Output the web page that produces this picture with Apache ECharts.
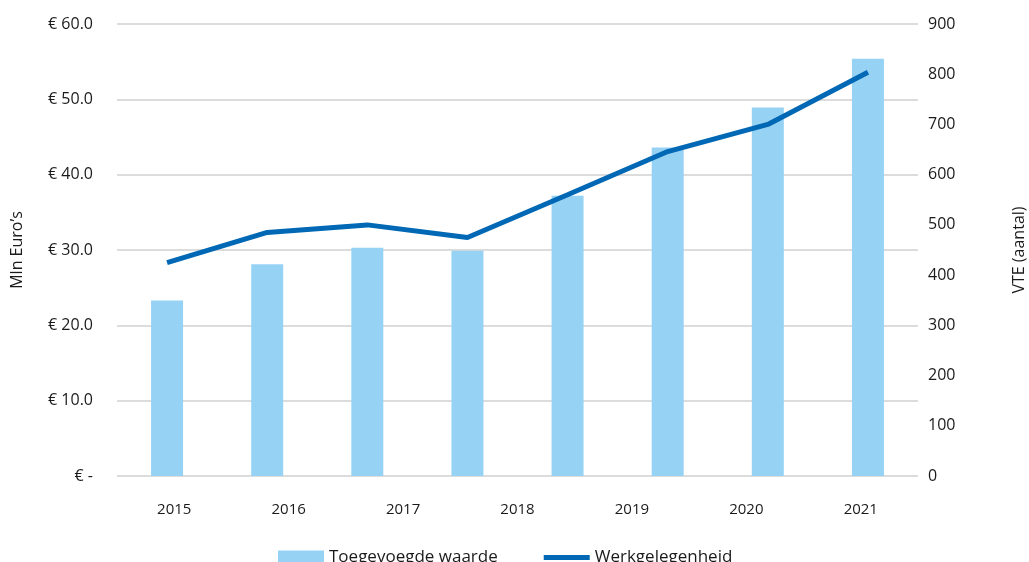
<!DOCTYPE html>
<html>
<head>
<meta charset="utf-8">
<script src="https://cdn.jsdelivr.net/npm/echarts@6/dist/echarts.min.js"></script>
<style>
    html, body { margin: 0; padding: 0; background: #fff; }
    #chart { width: 1029px; height: 562px; }
</style>
</head>
<body>
<div id="chart"></div>
<script>
// 8 bars/points in the plot, but only 7 year labels under the axis (as in the source)
var periods = ['p1', 'p2', 'p3', 'p4', 'p5', 'p6', 'p7', 'p8'];
var yearLabels = ['2015', '2016', '2017', '2018', '2019', '2020', '2021'];
var toegevoegdeWaarde = [23.3, 28.1, 30.3, 29.9, 37.2, 43.6, 48.9, 55.4];
var werkgelegenheid = [425, 485, 500, 475, 560, 646, 700, 804];

var fontName = '"Open Sans", "Noto Sans", sans-serif';
var textColor = '#1a1a1a';

var myChart = echarts.init(document.getElementById('chart'));

var option = {
    animation: false,
    textStyle: { fontFamily: fontName },
    grid: { left: 117, right: 111, top: 24, bottom: 86, outerBoundsMode: 'none' },
    legend: {
        bottom: -9,
        left: 273,
        itemWidth: 46,
        itemHeight: 14,
        itemGap: 46,
        textStyle: { fontSize: 17, color: textColor, fontFamily: fontName },
        data: [
            { name: 'Toegevoegde waarde', icon: 'rect' },
            { name: 'Werkgelegenheid', icon: 'path://M0 0h46v5H0z' }
        ]
    },
    xAxis: [{
        type: 'category',
        data: periods,
        position: 'bottom',
        axisLine: { show: false },
        axisTick: { show: false },
        axisLabel: { show: false }
    }, {
        type: 'category',
        data: yearLabels,
        position: 'bottom',
        axisLine: { show: false },
        axisTick: { show: false },
        axisLabel: { margin: 26, fontSize: 15, color: textColor }
    }],
    yAxis: [{
        type: 'value',
        min: 0,
        max: 60,
        interval: 10,
        name: 'Mln Euro\u2019s',
        nameLocation: 'middle',
        nameRotate: 90,
        nameGap: 92,
        nameTextStyle: { fontSize: 16, color: textColor },
        axisLine: { show: false },
        axisTick: { show: false },
        axisLabel: {
            margin: 24,
            fontSize: 16,
            color: textColor,
            formatter: function (v) {
                return v === 0 ? '€ -' : '€ ' + v.toFixed(1);
            }
        },
        splitLine: { lineStyle: { color: '#dcdcdc', width: 2 } }
    }, {
        type: 'value',
        min: 0,
        max: 900,
        interval: 100,
        position: 'right',
        name: 'VTE (aantal)',
        nameLocation: 'middle',
        nameRotate: 90,
        nameGap: 93,
        nameTextStyle: { fontSize: 16, color: textColor },
        axisLine: { show: false },
        axisTick: { show: false },
        axisLabel: { margin: 10, fontSize: 16, color: textColor },
        splitLine: { show: false }
    }],
    series: [{
        name: 'Toegevoegde waarde',
        type: 'bar',
        xAxisIndex: 0,
        yAxisIndex: 0,
        barWidth: 32,
        itemStyle: { color: '#96d2f4' },
        data: toegevoegdeWaarde
    }, {
        name: 'Werkgelegenheid',
        type: 'line',
        xAxisIndex: 0,
        yAxisIndex: 1,
        symbol: 'none',
        lineStyle: { color: '#0068b4', width: 5 },
        itemStyle: { color: '#0068b4' },
        data: werkgelegenheid
    }]
};

myChart.setOption(option);
</script>
</body>
</html>
